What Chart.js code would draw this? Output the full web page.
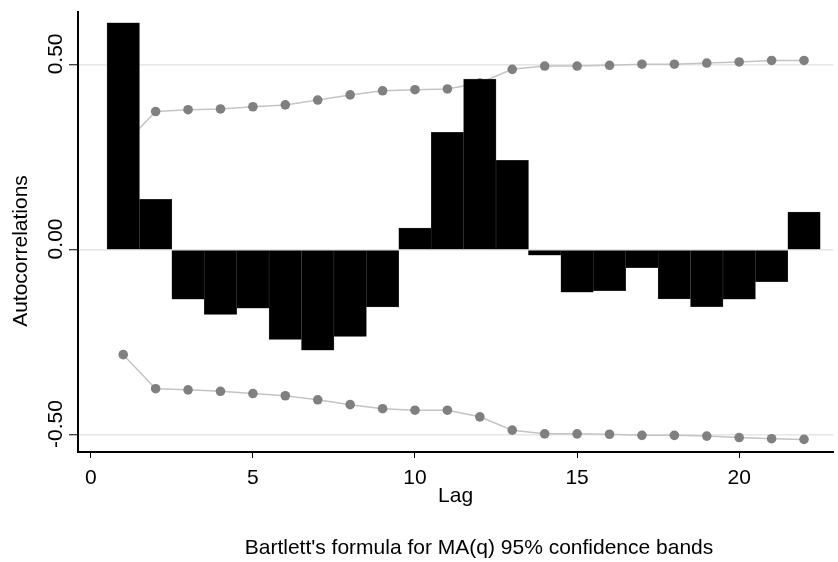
<!DOCTYPE html>
<html>
<head>
<meta charset="utf-8">
<script src="https://cdn.jsdelivr.net/npm/chart.js@4/dist/chart.umd.min.js"></script>
<style>
  html, body { margin: 0; padding: 0; background: #fff; }
  #wrap { width: 838px; height: 562px; }
</style>
</head>
<body>
<div id="wrap"><canvas id="acf" width="838" height="562"></canvas></div>
<script>
// datos
const lags = [1, 2, 3, 4, 5, 6, 7, 8, 9, 10, 11, 12, 13, 14, 15, 16, 17, 18, 19, 20, 21, 22];
const acf = [0.614, 0.137, -0.133, -0.174, -0.157, -0.242, -0.271, -0.234, -0.154, 0.059, 0.318,
  0.462, 0.242, -0.014, -0.114, -0.110, -0.048, -0.132, -0.153, -0.133, -0.086, 0.102];
const bandUpper = [0.283, 0.374, 0.379, 0.381, 0.387, 0.392, 0.405, 0.419, 0.430, 0.433, 0.435,
  0.451, 0.488, 0.497, 0.497, 0.499, 0.502, 0.502, 0.505, 0.508, 0.512, 0.512];
const bandLower = [-0.283, -0.375, -0.378, -0.382, -0.388, -0.394, -0.405, -0.418, -0.429, -0.433, -0.433,
  -0.451, -0.487, -0.497, -0.497, -0.498, -0.501, -0.501, -0.503, -0.507, -0.510, -0.512];
const xTicks = [0, 5, 10, 15, 20];
const yTicks = [-0.5, 0, 0.5];
const yTickLabels = ['-0.50', '0.00', '0.50'];

const FONT = 'Arial, "Liberation Sans", Helvetica, sans-serif';
const pts = arr => lags.map((l, i) => ({x: l, y: arr[i]}));

// textos extra: título del eje Y y la nota de Bartlett
const textosExtra = {
  id: 'textosExtra',
  afterDraw(chart) {
    const ctx = chart.ctx;
    ctx.save();
    ctx.fillStyle = '#000';
    ctx.font = '21px ' + FONT;
    ctx.textBaseline = 'alphabetic';
    ctx.textAlign = 'center';
    ctx.fillText("Bartlett's formula for MA(q) 95% confidence bands", 479, 554);
    ctx.translate(27, 251);
    ctx.rotate(-Math.PI / 2);
    ctx.fillText('Autocorrelations', 0, 0);
    ctx.restore();
  }
};

new Chart(document.getElementById('acf'), {
  type: 'bar',
  data: {
    datasets: [
      {
        type: 'bar',
        label: 'Autocorrelations',
        data: pts(acf),
        backgroundColor: '#000',
        borderColor: '#444',
        borderWidth: 0.5,
        borderSkipped: false,
        barPercentage: 1,
        categoryPercentage: 1,
        order: 0
      },
      {
        type: 'line',
        label: 'Upper band',
        data: pts(bandUpper),
        borderColor: '#c4c4c4',
        borderWidth: 1.5,
        pointBackgroundColor: '#808080',
        pointBorderWidth: 0,
        pointRadius: 4.8,
        tension: 0,
        order: 1
      },
      {
        type: 'line',
        label: 'Lower band',
        data: pts(bandLower),
        borderColor: '#c4c4c4',
        borderWidth: 1.5,
        pointBackgroundColor: '#808080',
        pointBorderWidth: 0,
        pointRadius: 4.8,
        tension: 0,
        order: 1
      }
    ]
  },
  options: {
    responsive: false,
    animation: false,
    layout: { padding: { top: 12, right: 0, left: 0, bottom: 0 } },
    plugins: {
      legend: { display: false },
      tooltip: { enabled: false }
    },
    scales: {
      x: {
        type: 'linear',
        min: -0.395,
        max: 22.9,
        offset: false,
        afterBuildTicks: s => { s.ticks = xTicks.map(v => ({value: v})); },
        afterFit: s => { s.height = 110; },
        border: { color: '#000', width: 2 },
        grid: { offset: false, drawOnChartArea: false, drawTicks: true, tickLength: 6, tickColor: '#000', tickWidth: 1 },
        ticks: { color: '#000', font: { family: FONT, size: 21 }, padding: 8, maxRotation: 0 },
        title: {
          display: true, text: 'Lag', color: '#000',
          font: { family: FONT, size: 21 },
          padding: { top: 0, bottom: 53 }
        }
      },
      y: {
        min: -0.546,
        max: 0.643,
        afterBuildTicks: s => { s.ticks = yTicks.map(v => ({value: v})); },
        afterFit: s => { s.width = 78; },
        border: { color: '#000', width: 2 },
        grid: { color: '#e6e6e6', lineWidth: 1.5, drawTicks: true, tickLength: 9, tickColor: '#000', tickWidth: 1 },
        ticks: {
          color: '#000',
          font: { family: FONT, size: 21 },
          minRotation: 90,
          maxRotation: 90,
          crossAlign: 'center',
          padding: -11,
          labelOffset: -11,
          callback: v => yTickLabels[yTicks.indexOf(v)]
        }
      }
    }
  },
  plugins: [textosExtra]
});
</script>
</body>
</html>
